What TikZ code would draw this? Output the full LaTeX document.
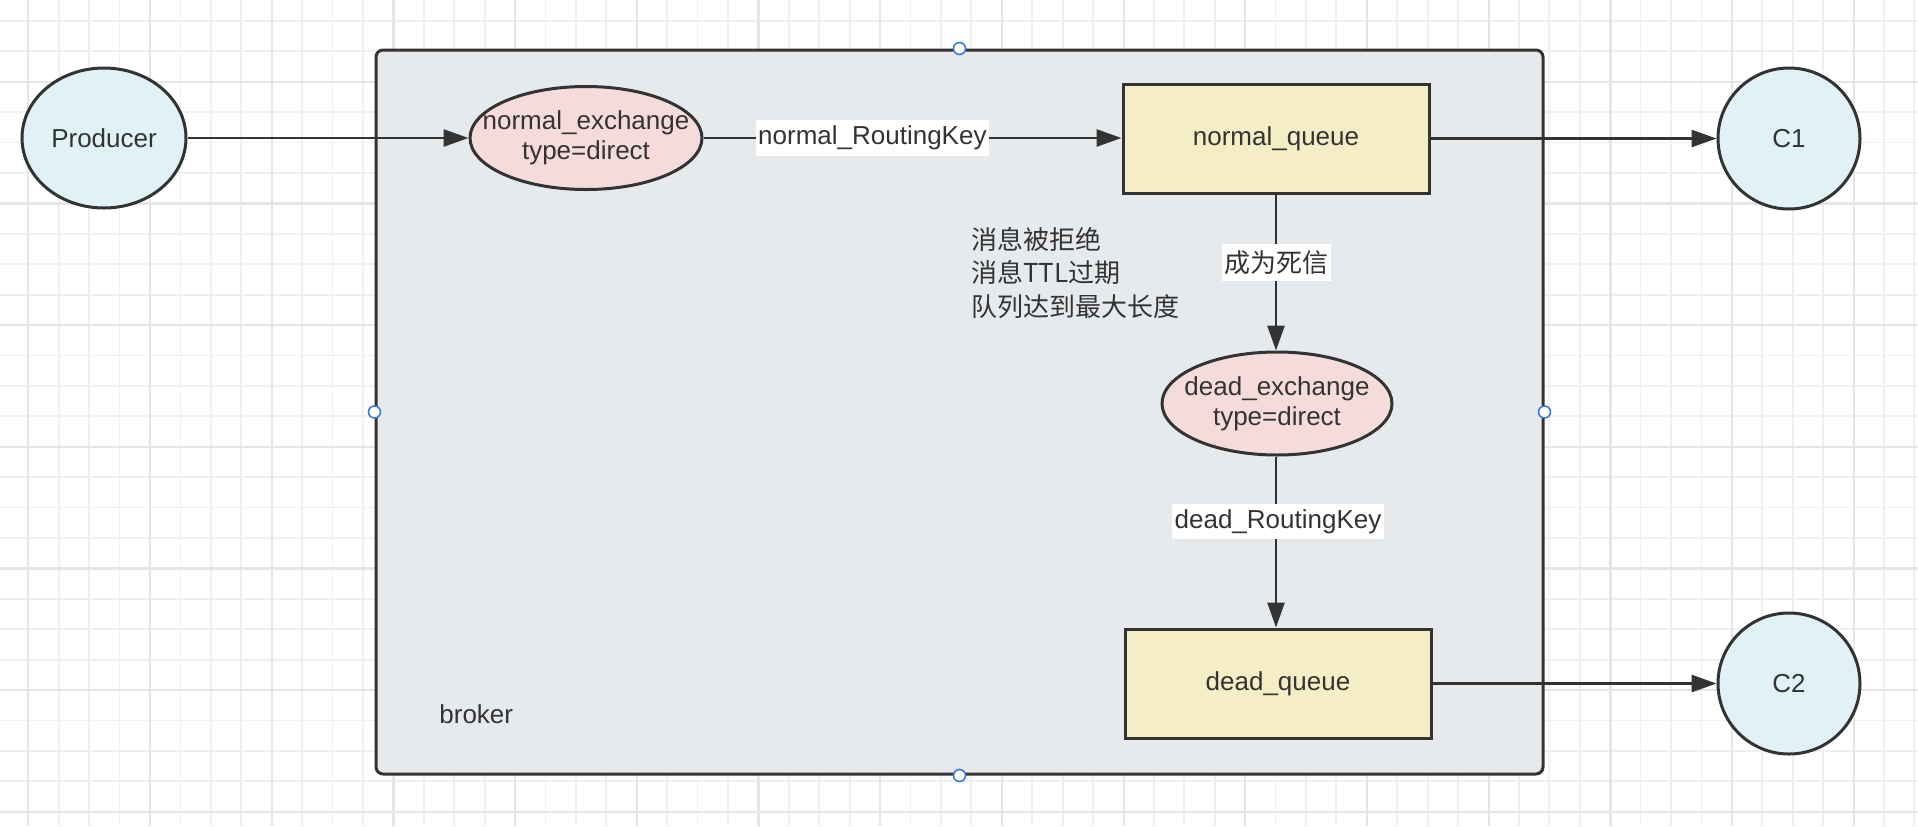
\documentclass[tikz,border=0pt]{standalone}
\usepackage{fontspec}
\setmainfont{Liberation Sans}
\newfontfamily\cjk{Noto Sans CJK SC}
\usetikzlibrary{shapes.geometric,arrows.meta}
\definecolor{ink}{HTML}{333333}
\definecolor{gridminor}{HTML}{F0F0F0}
\definecolor{gridmajor}{HTML}{E6E6E6}
\definecolor{brokerfill}{HTML}{E7EAED}
\definecolor{cyanfill}{HTML}{E0F2F5}
\definecolor{pinkfill}{HTML}{F5DCDB}
\definecolor{creamfill}{HTML}{F5EDC6}
\definecolor{handleblue}{HTML}{3A78E0}
\tikzset{
  minorgrid/.style={draw=gridminor, line width=0.9pt},
  majorgrid/.style={draw=gridmajor, line width=1.1pt},
  txt/.style={text=ink, font=\fontsize{13}{15}\selectfont},
  cjktxt/.style={text=ink, font=\cjk\fontsize{13}{16.7}\selectfont},
  endpoint/.style={ellipse, draw=ink, line width=1.5pt, fill=cyanfill, inner sep=0pt},
  exch/.style={ellipse, draw=ink, line width=1.5pt, fill=pinkfill, inner sep=0pt},
  queuebox/.style={rectangle, draw=ink, line width=1.5pt, fill=creamfill, inner sep=0pt,
    minimum width=153pt, minimum height=54.5pt, txt},
  brokerbox/.style={rectangle, draw=ink, line width=1.5pt, fill=brokerfill, rounded corners=3.5pt, inner sep=0pt},
  handle/.style={circle, draw=handleblue, line width=0.8pt, fill=white, inner sep=0pt, minimum size=6pt},
  arr/.style={draw=ink, line width=1.35pt, -{Triangle[length=12.5pt,width=8.5pt]}},
  elabel/.style={fill=white, inner xsep=1.25pt, inner ysep=0pt, minimum height=17.75pt, txt},
}
\begin{document}
\begin{tikzpicture}[x=0.5pt,y=-0.5pt]
\useasboundingbox (0,0) rectangle (1918,826);
\fill[white] (0,0) rectangle (1918,826);
% grid
\foreach \i in {0,...,63} {\draw[minorgrid] ({-2.1+30.42*\i},0) -- ({-2.1+30.42*\i},826);}
\foreach \i in {0,...,27} {\draw[minorgrid] (0,{-9.6+30.42*\i}) -- (1918,{-9.6+30.42*\i});}
\foreach \i in {0,...,15} {\draw[majorgrid] ({28.3+121.7*\i},0) -- ({28.3+121.7*\i},826);}
\foreach \i in {0,...,6} {\draw[majorgrid] (0,{81.7+121.7*\i}) -- (1918,{81.7+121.7*\i});}

% broker container
\node[brokerbox, minimum width=583.5pt, minimum height=362pt] (broker) at (959.5,412) {};
\node[txt, anchor=west, inner sep=0pt] (brokerlbl) at (439,714) {broker};

% nodes
\node[endpoint, minimum width=82pt, minimum height=70pt,
      label={[txt]center:Producer}] (producer) at (104,138) {};
\node[exch, minimum width=116pt, minimum height=51.5pt,
      label={[txt, align=center]center:normal\_exchange\\type=direct}] (nex) at (586,138) {};
\node[queuebox] (nq) at (1276,138.5) {normal\_queue};
\node[endpoint, minimum width=71pt, minimum height=70.5pt,
      label={[txt]center:C1}] (c1) at (1789,138.5) {};
\node[exch, minimum width=115pt, minimum height=51.5pt,
      label={[txt, align=center]center:dead\_exchange\\type=direct}] (dex) at (1277,403.5) {};
\node[queuebox] (dq) at (1278,683.5) {dead\_queue};
\node[endpoint, minimum width=71pt, minimum height=70.5pt,
      label={[txt]center:C2}] (c2) at (1789,683.5) {};

\node[cjktxt, anchor=west, align=left, inner sep=0pt] (reasons) at (971,273)
  {消息被拒绝\\消息TTL过期\\队列达到最大长度};

% connectors
\draw[arr] (producer.east) -- (producer.east -| nex.west);
\draw[arr] (nex.east) -- node[elabel, pos=0.404] (nrk) {normal\_RoutingKey} (nex.east -| nq.west);
\draw[arr] (nq.east) -- (nq.east -| c1.west);
\draw[arr] (nq.south) -- node[elabel, pos=0.434, cjktxt, fill=white, inner xsep=1.25pt, minimum height=18.5pt] (dead) {成为死信} (nq.south |- dex.north);
\draw[arr] (nq.south |- dex.south) -- node[elabel, pos=0.38, xshift=1pt] (drk) {dead\_RoutingKey} (nq.south |- dq.north);
\draw[arr] (dq.east) -- (dq.east -| c2.west);

% selection handles
\node[handle] (ht) at (broker.north) {};
\node[handle] (hb) at (broker.south) {};
\node[handle] (hl) at (broker.west) {};
\node[handle] (hr) at (broker.east) {};
\end{tikzpicture}
\end{document}
